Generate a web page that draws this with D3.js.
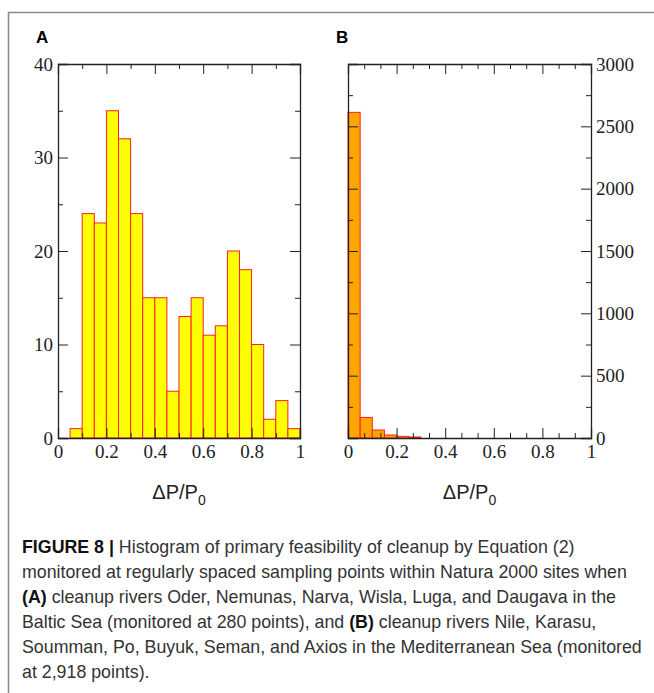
<!DOCTYPE html>
<html>
<head>
<meta charset="utf-8">
<script src="https://cdn.jsdelivr.net/npm/d3@7"></script>
<style>
  body { margin: 0; background: #fff; }
</style>
</head>
<body>
<div id="chart"></div>
<script>
var svgWidth = 654;
var svgHeight = 693;

// bin counts, 0.05 wide bins from 0 to 1
var binWidth = 0.05;
var countsA = [0, 1, 24, 23, 35, 32, 24, 15, 15, 5, 13, 15, 11, 12, 20, 18, 10, 2, 4, 1];
var countsB = [2612, 165, 64, 24, 13, 8, 0, 0, 0, 0, 0, 0, 0, 0, 0, 0, 0, 0, 0, 0];

var xTicks = [0, 0.2, 0.4, 0.6, 0.8, 1];
var yTicksA = [0, 10, 20, 30, 40];
var yTicksB = [0, 500, 1000, 1500, 2000, 2500, 3000];

var captionLines = [
  [{ b: true, t: "FIGURE 8 |" }, { t: " Histogram of primary feasibility of cleanup by Equation (2)" }],
  [{ t: "monitored at regularly spaced sampling points within Natura 2000 sites when" }],
  [{ b: true, t: "(A)" }, { t: " cleanup rivers Oder, Nemunas, Narva, Wisla, Luga, and Daugava in the" }],
  [{ t: "Baltic Sea (monitored at 280 points), and " }, { b: true, t: "(B)" }, { t: " cleanup rivers Nile, Karasu," }],
  [{ t: "Soumman, Po, Buyuk, Seman, and Axios in the Mediterranean Sea (monitored" }],
  [{ t: "at 2,918 points)." }],
];

var svg = d3
  .select("#chart")
  .append("svg")
  .attr("width", svgWidth)
  .attr("height", svgHeight);

// outer frame (left + top lines)
svg
  .append("path")
  .attr("d", `M8.5,${svgHeight} V12.5 H${svgWidth}`)
  .attr("fill", "none")
  .attr("stroke", "#8a8a8a")
  .attr("stroke-width", 1.5);

var plotTop = 64;
var plotBottom = 438;

// helper: style an axis group like the xmgrace output
function styleAxis(sel) {
  sel.attr("font-family", "Liberation Serif, Times New Roman, serif").attr("font-size", 19);
  sel.selectAll(".tick text").attr("fill", "#222");
  sel.selectAll(".tick line").attr("stroke", "#222");
  sel.select(".domain").attr("stroke", "#222").attr("stroke-width", 1.3);
  return sel;
}

function drawPanel(opts) {
  var x = d3.scaleLinear().domain([0, 1]).range([opts.left, opts.right]);
  var y = d3.scaleLinear().domain([0, opts.yMax]).range([plotBottom, plotTop]);

  var g = svg.append("g");

  // bars
  g.selectAll("rect")
    .data(opts.counts.map((c, i) => ({ x0: i * binWidth, c: c })).filter((d) => d.c > 0))
    .enter()
    .append("rect")
    .attr("x", (d) => x(d.x0))
    .attr("y", (d) => y(d.c))
    .attr("width", (d) => x(d.x0 + binWidth) - x(d.x0))
    .attr("height", (d) => y(0) - y(d.c))
    .attr("fill", opts.fill)
    .attr("stroke", "#ff2020")
    .attr("stroke-width", 1);

  var xMinor = d3.range(0, 1.0001, 0.2 / opts.xSub).filter((v) => Math.abs(v * 5 - Math.round(v * 5)) > 1e-6);
  var yMinor = d3.range(0, opts.yMax, opts.yStep / 2).filter((v) => v % opts.yStep !== 0);

  // bottom axis with labels
  g.append("g")
    .attr("transform", `translate(0, ${plotBottom})`)
    .call(d3.axisBottom(x).tickValues(xTicks).tickSize(-10).tickPadding(7).tickFormat(d3.format("~g")))
    .call(styleAxis);
  g.append("g")
    .attr("transform", `translate(0, ${plotBottom})`)
    .call(d3.axisBottom(x).tickValues(xMinor).tickSize(-5).tickFormat(""))
    .call(styleAxis)
    .select(".domain").remove();

  // top mirror
  g.append("g")
    .attr("transform", `translate(0, ${plotTop})`)
    .call(d3.axisTop(x).tickValues(xTicks).tickSize(-10).tickFormat(""))
    .call(styleAxis);
  g.append("g")
    .attr("transform", `translate(0, ${plotTop})`)
    .call(d3.axisTop(x).tickValues(xMinor).tickSize(-5).tickFormat(""))
    .call(styleAxis)
    .select(".domain").remove();

  // left and right axes
  var yTicks = opts.yTicks;
  g.append("g")
    .attr("transform", `translate(${opts.left}, 0)`)
    .call(d3.axisLeft(y).tickValues(yTicks).tickSize(-10).tickPadding(5)
      .tickFormat(opts.labelSide === "left" ? d3.format("d") : ""))
    .call(styleAxis);
  g.append("g")
    .attr("transform", `translate(${opts.left}, 0)`)
    .call(d3.axisLeft(y).tickValues(yMinor).tickSize(-5).tickFormat(""))
    .call(styleAxis)
    .select(".domain").remove();
  g.append("g")
    .attr("transform", `translate(${opts.right}, 0)`)
    .call(d3.axisRight(y).tickValues(yTicks).tickSize(-10).tickPadding(5)
      .tickFormat(opts.labelSide === "right" ? d3.format("d") : ""))
    .call(styleAxis);
  g.append("g")
    .attr("transform", `translate(${opts.right}, 0)`)
    .call(d3.axisRight(y).tickValues(yMinor).tickSize(-5).tickFormat(""))
    .call(styleAxis)
    .select(".domain").remove();

  // panel letter
  g.append("text")
    .attr("x", opts.letterX)
    .attr("y", 43)
    .attr("font-family", "Liberation Sans, Arial, sans-serif")
    .attr("font-weight", "bold")
    .attr("font-size", 17)
    .text(opts.letter);

  // x axis title: ΔP/P0
  var title = g.append("text")
    .attr("x", (opts.left + opts.right) / 2)
    .attr("y", 499)
    .attr("text-anchor", "middle")
    .attr("font-family", "Liberation Sans, Arial, sans-serif")
    .attr("font-size", 20)
    .attr("fill", "#222");
  title.append("tspan").text("\u0394P/P");
  title.append("tspan").attr("dy", 6).attr("font-size", 14).text("0");
}

drawPanel({
  left: 58, right: 300, yMax: 40, yStep: 10, yTicks: yTicksA, xSub: 2,
  counts: countsA, fill: "#ffff00", labelSide: "left", letter: "A", letterX: 36,
});

drawPanel({
  left: 348, right: 591, yMax: 3000, yStep: 500, yTicks: yTicksB, xSub: 3,
  counts: countsB, fill: "#ffa500", labelSide: "right", letter: "B", letterX: 336,
});

// caption
var caption = svg
  .append("g")
  .attr("font-family", "Liberation Sans, Arial, sans-serif")
  .attr("font-size", 17.8)
  .attr("fill", "#333");

captionLines.forEach(function (line, i) {
  var t = caption.append("text").attr("x", 22).attr("y", 553 + i * 25);
  line.forEach(function (part) {
    t.append("tspan")
      .attr("font-weight", part.b ? "bold" : null)
      .attr("fill", part.b ? "#111" : null)
      .text(part.t);
  });
});
</script>
</body>
</html>
